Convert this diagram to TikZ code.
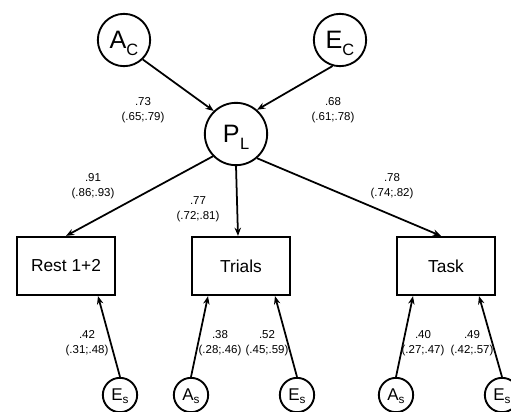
\documentclass[tikz,border=0pt]{standalone}
\usepackage{fontspec}
\setmainfont{Liberation Sans}
\usetikzlibrary{calc, arrows.meta}

\newcommand{\bigvar}[3]{{\fontsize{21.5}{21.5}\selectfont #1}\kern#3\raisebox{-6pt}{\fontsize{14}{14}\selectfont #2}}
\newcommand{\smallvar}[2]{{\fontsize{14.5}{14.5}\selectfont #1}\raisebox{-2.5pt}{\fontsize{10}{10}\selectfont #2}}

\tikzset{
  latent/.style={circle, draw, line width=1.6pt, inner sep=0pt, text depth=0pt},
  bigcirc/.style={latent, minimum size=1.57cm},
  midcirc/.style={latent, minimum size=1.87cm},
  smallcirc/.style={latent, minimum size=1.03cm},
  manifest/.style={rectangle, draw, line width=1.6pt, minimum width=2.95cm, minimum height=1.75cm, font=\fontsize{14.8}{16}\selectfont},
  path/.style={line width=1.5pt, -{Stealth[length=7pt,width=5.5pt]}},
  est/.style={align=center, font=\fontsize{9.8}{12.75}\selectfont, inner sep=0pt}
}

\begin{document}
\begin{tikzpicture}[x=0.03cm, y=-0.03cm]

\useasboundingbox (0,0) rectangle (511,411);
\clip (0,0) rectangle (511,411);

% common factors and the phenotype
\node[bigcirc] (ac) at (124,40) {\bigvar{A}{C}{0pt}};
\node[bigcirc] (ec) at (340,40) {\bigvar{E}{C}{0pt}};
\node[midcirc] (pl) at (236,134) {\bigvar{P}{L}{0.5pt}};

% measured variables
\node[manifest] (rest) at (66,266) {Rest 1+2};
\node[manifest] (trials) at (241,266) {Trials};
\node[manifest] (task) at (446,266) {Task};

% specific factors
\node[smallcirc] (es1) at (120,395) {\smallvar{E}{s}};
\node[smallcirc] (as2) at (191,395) {\smallvar{A}{s}};
\node[smallcirc] (es2) at (297,395) {\smallvar{E}{s}};
\node[smallcirc] (as3) at (396,395) {\smallvar{A}{s}};
\node[smallcirc] (es3) at (502,395) {\smallvar{E}{s}};

% paths
\draw[path] (ac.-46) -- (pl.134);
\draw[path] (ec.254) -- (pl.49);
\draw[path] (pl.224) -- (rest.north);
\draw[path] (pl.south) -- ($(trials.north)+(-3,0)$);
\draw[path] (pl.311) -- ($(task.north)+(-5,0)$);

\draw[path] (es1.north) -- ($(rest.south)+(32,0)$);
\draw[path] (as2.north) -- ($(trials.south)+(-33,0)$);
\draw[path] (es2.north) -- ($(trials.south)+(34,0)$);
\draw[path] (as3.north) -- ($(task.south)+(-33,0)$);
\draw[path] (es3.north) -- ($(task.south)+(33,0)$);

%label estimates
\node[est] (wac) at (143,110) {.73\\(.65;.79)};
\node[est] (wec) at (333,110) {.68\\(.61;.78)};
\node[est] (wrest) at (93,186) {.91\\(.86;.93)};
\node[est] (wtrials) at (198,209) {.77\\(.72;.81)};
\node[est] (wtask) at (392,186) {.78\\(.74;.82)};
\node[est] (wes1) at (87,343) {.42\\(.31;.48)};
\node[est] (was2) at (220,343) {.38\\(.28;.46)};
\node[est] (wes2) at (267,343) {.52\\(.45;.59)};
\node[est] (was3) at (423,343) {.40\\(.27;.47)};
\node[est] (wes3) at (472,343) {.49\\(.42;.57)};

\end{tikzpicture}
\end{document}
